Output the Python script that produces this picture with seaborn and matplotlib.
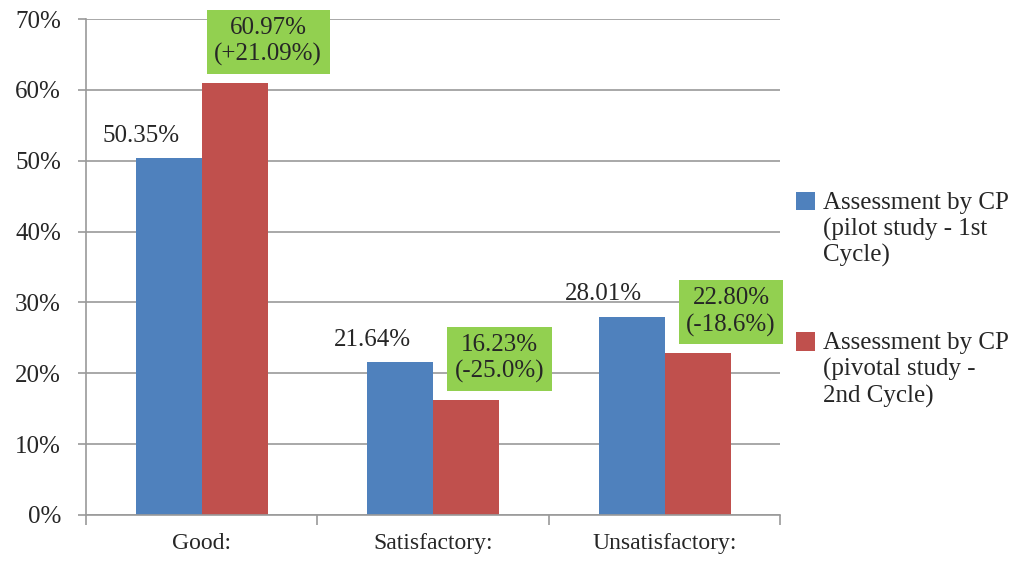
import numpy as np
import pandas as pd
import seaborn as sns
import matplotlib.pyplot as plt
from matplotlib.ticker import PercentFormatter, FixedLocator

# Data
categories = ['Good:', 'Satisfactory:', 'Unsatisfactory:']
series = ['Assessment by CP\n(pilot study - 1st\nCycle)',
          'Assessment by CP\n(pivotal study -\n2nd Cycle)']
pilot_values = [50.35, 21.64, 28.01]
pivotal_values = [60.97, 16.23, 22.80]
pivotal_change = ['+21.09%', '-25.0%', '-18.6%']

df = pd.DataFrame({
    'category': categories * 2,
    'series': [series[0]] * 3 + [series[1]] * 3,
    'value': pilot_values + pivotal_values,
})

sns.set_style('white')
plt.rcParams['font.family'] = ['Liberation Serif', 'DejaVu Serif']
text_color = '#262626'
grid_color = '#9a9a9a'

fig = plt.figure(figsize=(10.35, 5.61), dpi=100, facecolor='white')
ax = fig.add_axes([0.083, 0.082, 0.671, 0.884])

sns.barplot(data=df, x='category', y='value', hue='series',
            palette=['#4F81BD', '#C0504D'], width=0.57, gap=0,
            saturation=1, linewidth=0, ax=ax, legend=True)

ax.set_ylim(0, 70)
ax.set_xlim(-0.5, 2.5)
ax.set_yticks(np.arange(0, 71, 10))
ax.yaxis.set_major_formatter(PercentFormatter(xmax=100, decimals=0))
ax.yaxis.grid(True, color=grid_color, lw=1.2)
ax.set_axisbelow(True)
ax.set_xlabel('')
ax.set_ylabel('')

for s in ['top', 'right']:
    ax.spines[s].set_visible(False)
for s in ['left', 'bottom']:
    ax.spines[s].set_color(grid_color)
    ax.spines[s].set_linewidth(1.2)

ax.tick_params(axis='y', length=6, color=grid_color, labelsize=18,
               labelcolor=text_color, pad=12, left=True, width=1.2)
ax.tick_params(axis='x', which='major', length=0, labelsize=17,
               labelcolor=text_color, pad=13)
ax.xaxis.set_minor_locator(FixedLocator([-0.5, 0.5, 1.5, 2.5]))
ax.tick_params(axis='x', which='minor', length=7, color=grid_color,
               bottom=True, width=1.2)

# Labels on pilot bars
for i, v in enumerate(pilot_values):
    ax.annotate(f'{v:.2f}%', (i - 0.143, v), xytext=(-20, 8),
                textcoords='offset points', ha='center', va='bottom',
                fontsize=18, color=text_color)

# Green boxes on pivotal bars
for i, (v, c) in enumerate(zip(pivotal_values, pivotal_change)):
    ax.annotate(f'{v:.2f}%\n({c})', (i + 0.143, v), xytext=(24, 12),
                textcoords='offset points', ha='center', va='bottom',
                fontsize=18, color=text_color, linespacing=1.25,
                bbox=dict(boxstyle='square,pad=0.3', facecolor='#92D050',
                          edgecolor='none'))

handles, labels = ax.get_legend_handles_labels()
ax.get_legend().remove()
leg = fig.legend(handles, labels, loc='upper left',
                 bbox_to_anchor=(0.757, 0.68), frameon=False, fontsize=18,
                 handlelength=0.75, handleheight=0.75, handletextpad=0.35,
                 labelspacing=2.6, labelcolor=text_color, borderpad=0)
# put each colour square next to the first line of its label
for col in leg._legend_handle_box.get_children():
    for row in col.get_children():
        row.align = 'top'

fig.savefig('out.png', dpi=100)
